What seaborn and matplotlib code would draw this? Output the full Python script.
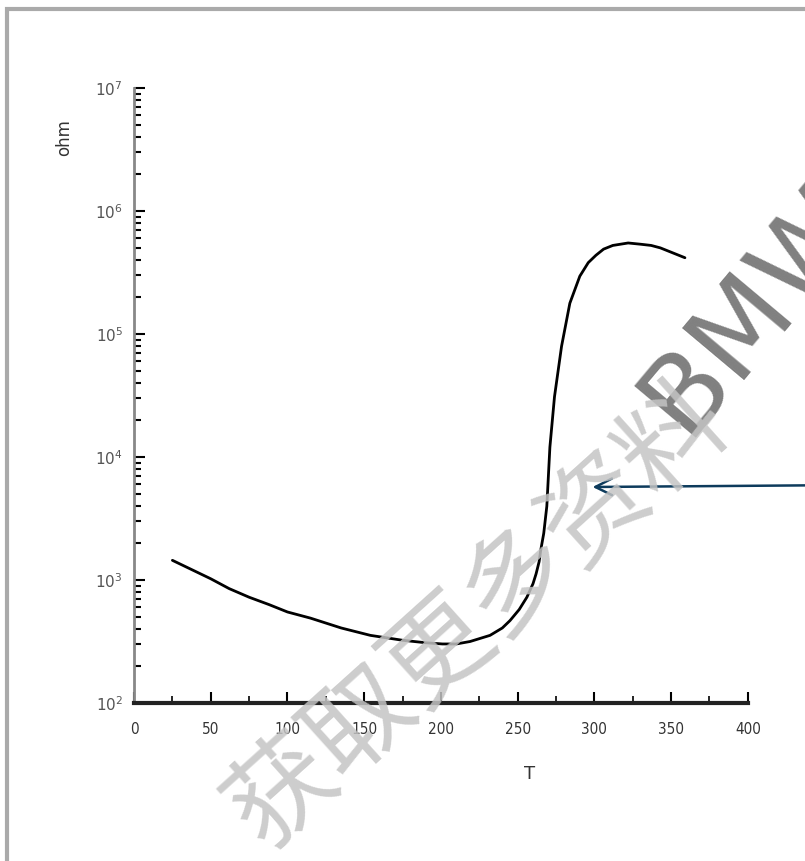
import numpy as np
import pandas as pd
import matplotlib
matplotlib.use("Agg")
import matplotlib.pyplot as plt
from matplotlib.patches import Rectangle
from matplotlib.ticker import LogLocator, MultipleLocator, FixedLocator
import seaborn as sns

# Data (T vs resistance, log scale)
temps = [25, 40, 50, 62, 75, 88, 100, 115, 135, 154, 175, 190, 201, 210, 219, 232, 240,
         245, 251, 256, 260, 262, 264, 265, 267, 269, 271, 274, 278.6, 284, 290.5, 296,
         301, 306, 312, 322, 330, 337, 343, 351, 359]
log_ohm = [3.16, 3.07, 3.01, 2.93, 2.86, 2.80, 2.74, 2.69, 2.61, 2.55, 2.51, 2.49, 2.48,
           2.48, 2.50, 2.55, 2.61, 2.67, 2.76, 2.86, 2.97, 3.05, 3.15, 3.24, 3.38, 3.60,
           4.08, 4.49, 4.90, 5.25, 5.47, 5.58, 5.64, 5.69, 5.72, 5.74, 5.73, 5.72, 5.70,
           5.66, 5.62]
ohm = [10 ** v for v in log_ohm]

y_decades = [2, 3, 4, 5, 6, 7]
x_ticks = [0, 50, 100, 150, 200, 250, 300, 350, 400]

df = pd.DataFrame({"T": temps, "ohm": ohm})

sns.set_style("white")
plt.rcParams['font.family'] = ['DejaVu Sans', 'Noto Sans CJK SC']

fig = plt.figure(figsize=(8.05, 8.61), dpi=100)
ax = fig.add_axes([0.1665, 0.1835, 0.7625, 0.7143])

sns.lineplot(data=df, x="T", y="ohm", ax=ax, color="black", linewidth=2)

ax.set_yscale("log")
ax.set_xlim(0, 400)
ax.set_ylim(1e2, 1e7)

# ticks
ax.xaxis.set_major_locator(FixedLocator(x_ticks))
ax.xaxis.set_minor_locator(MultipleLocator(25))
ax.set_xticklabels([str(t) for t in x_ticks], fontsize=11, fontstretch="condensed")
ax.yaxis.set_major_locator(FixedLocator([10.0 ** d for d in y_decades]))
ax.yaxis.set_minor_locator(LogLocator(base=10, subs=np.arange(2, 10)))
ax.set_yticklabels([r"$10^{%d}$" % d for d in y_decades], fontsize=11)
ax.tick_params(axis="x", which="major", bottom=True, direction="in", length=8, width=1.5,
               pad=14, colors="black", labelcolor="#333333")
ax.tick_params(axis="x", which="minor", bottom=True, direction="in", length=5, width=1.2,
               colors="black")
ax.tick_params(axis="y", which="major", left=True, direction="in", length=8, width=1.5,
               pad=8, colors="black", labelcolor="#555555")
ax.tick_params(axis="y", which="minor", left=True, direction="in", length=5, width=1.5,
               colors="black")

for s in ["top", "right"]:
    ax.spines[s].set_visible(False)
ax.spines["bottom"].set_linewidth(3)
ax.spines["bottom"].set_color("#222222")
ax.spines["left"].set_linewidth(2)
ax.spines["left"].set_color("#888888")

ax.set_xlabel("T", fontsize=13, color="#333333")
ax.xaxis.set_label_coords(0.645, -0.1)
ax.set_ylabel("ohm", fontsize=12, color="#333333")
ax.yaxis.set_label_coords(-0.1, 0.92)

# arrow pointing at the steep rise
ax.annotate("", xy=(297, 10 ** 3.756), xytext=(445, 10 ** 3.77),
            xycoords="data", textcoords="data",
            arrowprops=dict(arrowstyle="->", color="#0d3b5c", lw=1.8,
                            mutation_scale=30), annotation_clip=False)

# watermark text
fig.text(0.935, 0.64, "BMW", fontsize=80, color="#555555", alpha=0.75,
         rotation=50, ha="center", va="center")
fig.text(0.595, 0.285, "获取更多资料", fontsize=76, color="#c4c4c4", alpha=0.85,
         rotation=42, ha="center", va="center", family=['Noto Sans CJK SC', 'DejaVu Sans'])

# grey frame around the picture
fig.patches.append(Rectangle((0.009, -0.05), 1.1, 1.04, transform=fig.transFigure,
                             fill=False, edgecolor="#aaaaaa", linewidth=3))

fig.savefig("out.png", dpi=100)
